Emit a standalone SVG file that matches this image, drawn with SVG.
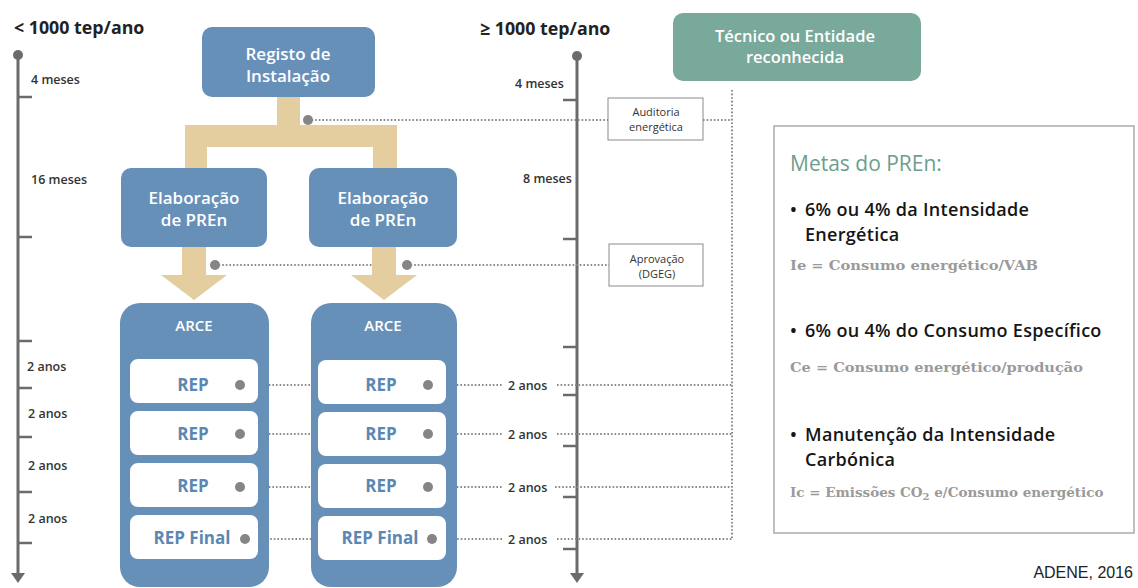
<svg xmlns="http://www.w3.org/2000/svg" width="1138" height="588" viewBox="0 0 1138 588">
<defs>
<style>
.blue{fill:#6790b9}
.tan{fill:#e4cd9f}
.tl{stroke:#6b6b6b;stroke-width:3;fill:none}
.tick{stroke:#6b6b6b;stroke-width:2.5}
.dot{stroke:#8a8a8a;stroke-width:2;stroke-dasharray:1.6 2;fill:none}
.pt{fill:#858585}
.wt{font-family:"Open Sans","DejaVu Sans",sans-serif;font-weight:600;fill:#fff;text-anchor:middle}
.lab{font-family:"Open Sans","DejaVu Sans",sans-serif;font-weight:600;font-size:12.5px;fill:#333}
.hdr{font-family:"Open Sans","DejaVu Sans",sans-serif;font-weight:700;font-size:17.8px;fill:#222}
.rep{font-family:"Open Sans","DejaVu Sans",sans-serif;font-weight:700;font-size:17px;fill:#5b87b3;text-anchor:middle}
.sm{font-family:"Open Sans","DejaVu Sans",sans-serif;font-size:11px;fill:#333;text-anchor:middle}
.bul{font-family:"Open Sans","DejaVu Sans",sans-serif;font-weight:600;font-size:18px;letter-spacing:0.3px;fill:#151515}
.frm{font-family:"DejaVu Serif","Liberation Serif",serif;font-weight:700;font-size:13.5px;fill:#9a9a9a}
</style>
</defs>

<g id="timeline-left">
<circle cx="18" cy="55" r="5" fill="#6b6b6b"/>
<line class="tl" x1="18" y1="55" x2="18" y2="574"/>
<path d="M11 573 L25 573 L18 583 Z" fill="#6b6b6b"/>
<line class="tick" x1="18" y1="97" x2="32" y2="97"/>
<line class="tick" x1="18" y1="237" x2="32" y2="237"/>
<line class="tick" x1="18" y1="341" x2="32" y2="341"/>
<line class="tick" x1="18" y1="388" x2="32" y2="388"/>
<line class="tick" x1="18" y1="437" x2="32" y2="437"/>
<line class="tick" x1="18" y1="492" x2="32" y2="492"/>
<line class="tick" x1="18" y1="543" x2="32" y2="543"/>
<text class="hdr" x="14" y="34">&lt; 1000 tep/ano</text>
<text class="lab" x="31" y="84">4 meses</text>
<text class="lab" x="31" y="184">16 meses</text>
<text class="lab" x="27" y="371">2 anos</text>
<text class="lab" x="28" y="418">2 anos</text>
<text class="lab" x="28" y="470">2 anos</text>
<text class="lab" x="28" y="523">2 anos</text>
</g>

<g id="timeline-right">
<circle cx="577" cy="56" r="5" fill="#6b6b6b"/>
<line class="tl" x1="577" y1="56" x2="577" y2="574"/>
<path d="M570 573 L584 573 L577 583 Z" fill="#6b6b6b"/>
<line class="tick" x1="563" y1="100" x2="577" y2="100"/>
<line class="tick" x1="563" y1="239" x2="577" y2="239"/>
<line class="tick" x1="563" y1="347" x2="577" y2="347"/>
<line class="tick" x1="563" y1="395" x2="577" y2="395"/>
<line class="tick" x1="563" y1="446" x2="577" y2="446"/>
<line class="tick" x1="563" y1="497" x2="577" y2="497"/>
<line class="tick" x1="563" y1="549" x2="577" y2="549"/>
<text class="hdr" x="480" y="35">≥ 1000 tep/ano</text>
<text class="lab" x="515" y="88">4 meses</text>
<text class="lab" x="523" y="183">8 meses</text>
</g>

<g id="connectors">
<path class="tan" d="M277 96 H300 V125 H397 V169 H373 V147 H207 V169 H185 V125 H277 Z"/>
<path class="tan" d="M182 246 H206 V275 H227 L194 300 L161 275 H182 Z"/>
<path class="tan" d="M372 246 H396 V275 H417 L384 300 L351 275 H372 Z"/>
<line class="dot" x1="308" y1="120" x2="608" y2="120"/>
<line class="dot" x1="703" y1="120" x2="732" y2="120"/>
<line class="dot" x1="732" y1="90" x2="732" y2="539"/>
<line class="dot" x1="215" y1="265" x2="372" y2="265"/>
<line class="dot" x1="407" y1="265" x2="609" y2="265"/>
<line class="dot" x1="240" y1="385" x2="311" y2="385"/>
<line class="dot" x1="240" y1="434" x2="311" y2="434"/>
<line class="dot" x1="240" y1="487" x2="311" y2="487"/>
<line class="dot" x1="245" y1="539" x2="311" y2="539"/>
<line class="dot" x1="428" y1="385" x2="503" y2="385"/>
<line class="dot" x1="428" y1="434" x2="503" y2="434"/>
<line class="dot" x1="428" y1="487" x2="503" y2="487"/>
<line class="dot" x1="432" y1="539" x2="503" y2="539"/>
<line class="dot" x1="557" y1="385" x2="732" y2="385"/>
<line class="dot" x1="557" y1="434" x2="732" y2="434"/>
<line class="dot" x1="555" y1="487" x2="732" y2="487"/>
<line class="dot" x1="557" y1="539" x2="732" y2="539"/>
<circle class="pt" cx="308" cy="120" r="5"/>
<circle class="pt" cx="215" cy="265" r="5"/>
<circle class="pt" cx="407" cy="265" r="5"/>
<text class="lab" x="508" y="390">2 anos</text>
<text class="lab" x="508" y="439">2 anos</text>
<text class="lab" x="508" y="492">2 anos</text>
<text class="lab" x="508" y="544">2 anos</text>
</g>

<g id="registo">
<rect class="blue" x="202" y="27" width="173" height="70" rx="10"/>
<text class="wt" x="288" y="60" font-size="17">Registo de</text>
<text class="wt" x="288" y="82" font-size="17">Instalação</text>
</g>

<g id="elab-left">
<rect class="blue" x="121" y="168" width="146" height="79" rx="10"/>
<text class="wt" x="194" y="204" font-size="17">Elaboração</text>
<text class="wt" x="194" y="226" font-size="17">de PREn</text>
</g>

<g id="elab-right">
<rect class="blue" x="309" y="168" width="148" height="79" rx="10"/>
<text class="wt" x="383" y="204" font-size="17">Elaboração</text>
<text class="wt" x="383" y="226" font-size="17">de PREn</text>
</g>

<g id="arce-left">
<rect class="blue" x="120" y="303" width="149" height="284" rx="20"/>
<text class="wt" x="194" y="331" font-size="15">ARCE</text>
<rect x="130" y="359" width="128" height="44" rx="8" fill="#fff"/>
<rect x="130" y="411" width="128" height="44" rx="8" fill="#fff"/>
<rect x="130" y="463" width="128" height="44" rx="8" fill="#fff"/>
<rect x="130" y="515" width="128" height="44" rx="8" fill="#fff"/>
<text class="rep" x="193" y="391">REP</text>
<text class="rep" x="193" y="440">REP</text>
<text class="rep" x="193" y="492">REP</text>
<text class="rep" x="192" y="544">REP Final</text>
<circle class="pt" cx="240" cy="385" r="5"/>
<circle class="pt" cx="240" cy="434" r="5"/>
<circle class="pt" cx="240" cy="487" r="5"/>
<circle class="pt" cx="245" cy="539" r="5"/>
</g>

<g id="arce-right">
<rect class="blue" x="311" y="303" width="146" height="284" rx="20"/>
<text class="wt" x="383" y="331" font-size="15">ARCE</text>
<rect x="318" y="360" width="128" height="44" rx="8" fill="#fff"/>
<rect x="318" y="412" width="128" height="44" rx="8" fill="#fff"/>
<rect x="318" y="464" width="128" height="44" rx="8" fill="#fff"/>
<rect x="318" y="516" width="128" height="44" rx="8" fill="#fff"/>
<text class="rep" x="381" y="391">REP</text>
<text class="rep" x="381" y="440">REP</text>
<text class="rep" x="381" y="492">REP</text>
<text class="rep" x="380" y="544">REP Final</text>
<circle class="pt" cx="428" cy="385" r="5"/>
<circle class="pt" cx="428" cy="434" r="5"/>
<circle class="pt" cx="428" cy="487" r="5"/>
<circle class="pt" cx="432" cy="539" r="5"/>
</g>

<g id="tecnico">
<rect x="673" y="13" width="248" height="68" rx="10" fill="#79a99b"/>
<text class="wt" x="795" y="42" font-size="16.5">Técnico ou Entidade</text>
<text class="wt" x="795" y="63" font-size="16.5">reconhecida</text>
</g>

<g id="auditoria">
<rect x="608" y="98" width="95" height="42" fill="#fff" stroke="#8a8a8a" stroke-width="1"/>
<text class="sm" x="656" y="116">Auditoria</text>
<text class="sm" x="656" y="131">energética</text>
</g>

<g id="aprovacao">
<rect x="609" y="244" width="94" height="42" fill="#fff" stroke="#8a8a8a" stroke-width="1"/>
<text class="sm" x="657" y="263">Aprovação</text>
<text class="sm" x="657" y="278">(DGEG)</text>
</g>

<g id="metas">
<rect x="774" y="126" width="360" height="407" fill="#fff" stroke="#ababab" stroke-width="1.5"/>
<text x="790" y="171" font-family="Open Sans, DejaVu Sans, sans-serif" font-size="21" fill="#6e9d8e">Metas do PREn:</text>
<text class="bul" x="790" y="216">•</text>
<text class="bul" x="805" y="216">6% ou 4% da Intensidade</text>
<text class="bul" x="805" y="241">Energética</text>
<text class="frm" x="790" y="270" textLength="248" lengthAdjust="spacingAndGlyphs">Ie =  Consumo energético/VAB</text>
<text class="bul" x="790" y="337">•</text>
<text class="bul" x="805" y="337">6% ou 4% do Consumo Específico</text>
<text class="frm" x="790" y="372" textLength="293" lengthAdjust="spacingAndGlyphs">Ce =  Consumo energético/produção</text>
<text class="bul" x="790" y="441">•</text>
<text class="bul" x="805" y="441">Manutenção da Intensidade</text>
<text class="bul" x="805" y="466">Carbónica</text>
<text class="frm" x="790" y="497" font-size="14.5">Ic =  Emissões CO<tspan font-size="10" dy="3">2</tspan><tspan dy="-3"> e/Consumo energético</tspan></text>
</g>

<text x="1133" y="578" text-anchor="end" font-family="Liberation Sans, Arial, sans-serif" font-size="16" fill="#222">ADENE, 2016</text>
</svg>
